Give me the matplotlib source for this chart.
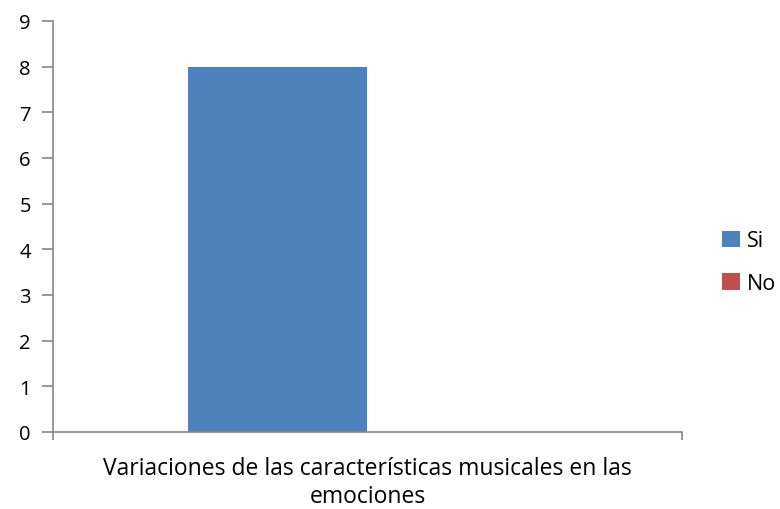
import matplotlib
matplotlib.use("Agg")
import matplotlib.pyplot as plt

categories = ["Variaciones de las características musicales en las\nemociones"]
series_names = ["Si", "No"]
series_values = [[8], [0]]
colors = ["#4F81BD", "#C0504D"]
yticks = list(range(0, 10))

plt.rcParams['font.family'] = ['Open Sans', 'DejaVu Sans']

fig = plt.figure(figsize=(7.8, 5.1), dpi=100)
ax = fig.add_axes([0.068, 0.151, 0.806, 0.806])

width = 0.286
offsets = [-0.143, 0.143]
handles = []
for name, vals, col, off in zip(series_names, series_values, colors, offsets):
    h = ax.bar([i + off for i in range(len(categories))], vals, width=width,
               color=col, label=name)
    handles.append(h)

ax.set_xlim(-0.5, len(categories) - 0.5)
ax.set_ylim(0, 9)
ax.set_yticks(yticks)
ax.set_yticklabels([str(t) for t in yticks], fontsize=14.5)

for s in ["top", "right"]:
    ax.spines[s].set_visible(False)
for s in ["left", "bottom"]:
    ax.spines[s].set_color("#868686")
    ax.spines[s].set_linewidth(1.2)

ax.tick_params(axis="y", length=8, width=1.2, color="#868686", pad=8)
ax.set_xticks([-0.5, 0.5], minor=True)
ax.tick_params(axis="x", which="minor", length=6, width=1.2, color="#868686", direction="out")
ax.set_xticks(range(len(categories)))
ax.set_xticklabels(categories, fontsize=16.5, linespacing=1.22)
ax.tick_params(axis="x", which="major", length=0, pad=17)

fig.legend(handles=handles, labels=series_names, loc="center left",
           bbox_to_anchor=(0.926, 0.484), frameon=False, fontsize=15.5,
           handlelength=0.8, handleheight=0.8, handletextpad=0.35,
           labelspacing=1.0, borderpad=0, borderaxespad=0)

fig.savefig("out.png", dpi=100)
